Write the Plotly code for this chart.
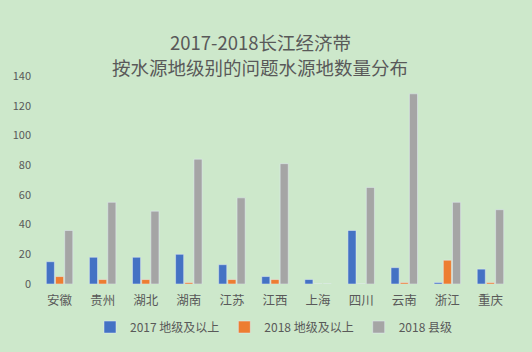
import plotly.graph_objects as go

provinces = ["安徽", "贵州", "湖北", "湖南", "江苏", "江西", "上海", "四川", "云南", "浙江", "重庆"]
city_2017 = [15, 18, 18, 20, 13, 5, 3, 36, 11, 1, 10]
city_2018 = [5, 3, 3, 1, 3, 3, 0, 0, 1, 16, 1]
county_2018 = [36, 55, 49, 84, 58, 81, 0, 65, 128, 55, 50]
yticks = [0, 20, 40, 60, 80, 100, 120, 140]

font = "Noto Sans CJK SC"
txt = "#595959"

fig = go.Figure()
fig.add_bar(x=provinces, y=city_2017, name="2017 地级及以上", marker_color="#4472C4")
fig.add_bar(x=provinces, y=city_2018, name="2018 地级及以上", marker_color="#ED7D31")
fig.add_bar(x=provinces, y=county_2018, name="2018 县级", marker_color="#A5A5A5")

tx = (260 - 38) / 474

fig.update_layout(
    width=532, height=352,
    paper_bgcolor="#cde8cb", plot_bgcolor="#cde8cb",
    margin=dict(l=38, r=20, t=76, b=68, autoexpand=False),
    barmode="group", bargap=0.36, bargroupgap=0.12,
    font=dict(family=font, color=txt, size=12),
    legend=dict(orientation="h", x=(90 - 38) / 474, xanchor="left", y=-0.207, yanchor="middle",
                font=dict(size=12, color=txt), itemwidth=30, traceorder="normal"),
    xaxis=dict(showgrid=False, showline=False, ticks="", ticklabelstandoff=7,
               tickfont=dict(size=12.5, color=txt)),
    yaxis=dict(range=[0, 140], tickvals=yticks, showgrid=False, zeroline=False,
               showline=False, ticks="", ticklabelstandoff=6,
               tickfont=dict(size=11, color=txt)),
    annotations=[
        dict(text="2017-2018长江经济带", xref="paper", yref="paper", x=tx, y=(352 - 42 - 68) / 208,
             xanchor="center", yanchor="middle", showarrow=False,
             font=dict(size=18.5, color=txt, family=font)),
        dict(text="按水源地级别的问题水源地数量分布", xref="paper", yref="paper", x=tx, y=(352 - 67 - 68) / 208,
             xanchor="center", yanchor="middle", showarrow=False,
             font=dict(size=18.5, color=txt, family=font)),
    ],
)
fig.write_html("out.html")
